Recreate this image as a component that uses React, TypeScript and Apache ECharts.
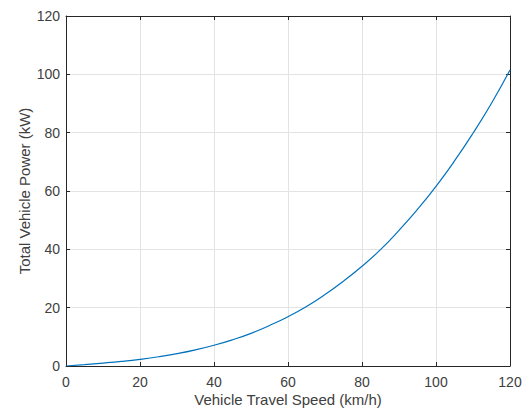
import React, { useEffect, useRef } from "react";
import * as echarts from "echarts";

const speeds = [0, 5, 10, 15, 20, 25, 30, 35, 40, 45, 50, 55, 60, 65, 70, 75, 80, 85, 90, 95, 100, 105, 110, 115, 120];
const power = [0, 0.48, 1.0, 1.59, 2.3, 3.17, 4.23, 5.53, 7.1, 8.99, 11.2, 13.9, 16.9, 20.4, 24.5, 29.1, 34.2, 39.9, 46.5, 53.7, 61.6, 70.3, 79.8, 90.1, 101.5];
const xTitle = "Vehicle Travel Speed (km/h)";
const yTitle = "Total Vehicle Power (kW)";

const FONT = "Liberation Sans, Arial, sans-serif";
const AXIS = "#262626";
const TEXT = "#404040";
const GRIDC = "#e3e3e3";

export default function App() {
  const ref = useRef<HTMLDivElement>(null);
  useEffect(() => {
    const chart = echarts.init(ref.current!, null, { renderer: "svg" });
    const baseAxis = {
      min: 0,
      max: 120,
      interval: 20,
      axisLine: { show: true, onZero: false, lineStyle: { color: AXIS, width: 1 } },
      axisTick: { show: true, inside: true, length: 4, lineStyle: { color: AXIS } },
    };
    chart.setOption({
      animation: false,
      backgroundColor: "#ffffff",
      grid: { left: 66, right: 13, top: 16, bottom: 44, containLabel: false, outerBoundsMode: "none" },
      xAxis: [
        {
          ...baseAxis,
          type: "value",
          position: "bottom",
          name: xTitle,
          nameLocation: "middle",
          nameGap: 26,
          nameMoveOverlap: false,
          nameTextStyle: { fontFamily: FONT, fontSize: 15, color: TEXT },
          axisLabel: { fontFamily: FONT, fontSize: 14, color: TEXT, margin: 9 },
          splitLine: { show: true, lineStyle: { color: GRIDC, width: 1 } },
        },
        {
          ...baseAxis,
          type: "value",
          position: "top",
          axisLabel: { show: false },
          splitLine: { show: false },
        },
      ],
      yAxis: [
        {
          ...baseAxis,
          type: "value",
          position: "left",
          name: yTitle,
          nameLocation: "middle",
          nameGap: 34,
          nameMoveOverlap: false,
          nameTextStyle: { fontFamily: FONT, fontSize: 15, color: TEXT },
          axisLabel: { fontFamily: FONT, fontSize: 14, color: TEXT, margin: 6 },
          splitLine: { show: true, lineStyle: { color: GRIDC, width: 1 } },
        },
        {
          ...baseAxis,
          type: "value",
          position: "right",
          axisLabel: { show: false },
          splitLine: { show: false },
        },
      ],
      series: [
        {
          type: "line",
          data: speeds.map((s, i) => [s, power[i]]),
          showSymbol: false,
          smooth: true,
          lineStyle: { color: "#0072BD", width: 1.2 },
          silent: true,
        },
      ],
    });
    return () => chart.dispose();
  }, []);
  return (
    <div
      ref={ref}
      style={{ position: "absolute", left: 0, top: 0, width: 523, height: 410, background: "#fff" }}
    />
  );
}
